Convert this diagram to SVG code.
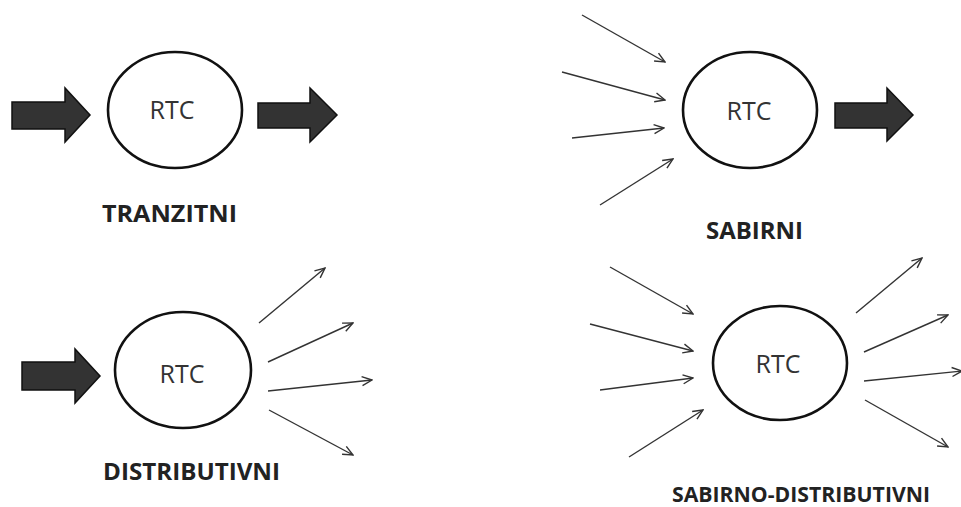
<svg xmlns="http://www.w3.org/2000/svg" width="961" height="507" viewBox="0 0 961 507">
<style>
.node ellipse{fill:#fff;stroke:#111;stroke-width:2.6}
.rtc{font-family:"Open Sans","DejaVu Sans",sans-serif;font-size:25px;fill:#333;text-anchor:middle}
.lbl{font-family:"Open Sans","DejaVu Sans",sans-serif;font-weight:700;fill:#222}
.block{fill:#333;stroke:#111;stroke-width:1.5;stroke-linejoin:miter}
.thin{stroke:#333;stroke-width:1.4;fill:none;marker-end:url(#head)}
</style>
<defs>
<marker id="head" viewBox="0 0 12 12" refX="11" refY="6" markerWidth="12" markerHeight="12" markerUnits="userSpaceOnUse" orient="auto">
<path d="M1,1.5 L11,6 L1,10.5" fill="none" stroke="#333" stroke-width="1.4"/>
</marker>
</defs>
<rect width="961" height="507" fill="#fff"/>
<g id="connectors">
<path class="block" d="M12,102 H65 V88 L90,115 L65,142 V129 H12 Z"/>
<path class="block" d="M258,103 H310 V88 L337,115 L310,142 V128 H258 Z"/>
<path class="block" d="M835,103 H887 V88 L913,115 L887,141 V128 H835 Z"/>
<path class="block" d="M22,362 H75 V349 L100,376 L75,403 V390 H22 Z"/>
<line class="thin" x1="582" y1="15" x2="665" y2="62"/>
<line class="thin" x1="562" y1="72" x2="665" y2="100"/>
<line class="thin" x1="572" y1="138" x2="664" y2="128"/>
<line class="thin" x1="600" y1="205" x2="673" y2="159"/>
<line class="thin" x1="259" y1="323" x2="325" y2="268"/>
<line class="thin" x1="268" y1="362" x2="353" y2="323"/>
<line class="thin" x1="268" y1="391" x2="372" y2="380"/>
<line class="thin" x1="269" y1="410" x2="353" y2="455"/>
<line class="thin" x1="610" y1="267" x2="693" y2="314"/>
<line class="thin" x1="590" y1="324" x2="693" y2="351"/>
<line class="thin" x1="600" y1="390" x2="693" y2="378"/>
<line class="thin" x1="629" y1="457" x2="703" y2="410"/>
<line class="thin" x1="856" y1="313" x2="922" y2="258"/>
<line class="thin" x1="864" y1="352" x2="948" y2="315"/>
<line class="thin" x1="864" y1="381" x2="962" y2="371"/>
<line class="thin" x1="865" y1="400" x2="948" y2="447"/>
</g>
<g id="tranzitni" class="node">
<ellipse cx="175" cy="110" rx="67" ry="58"/>
<text class="rtc" x="172" y="119">RTC</text>
<text class="lbl" x="102" y="222" font-size="24" textLength="135" lengthAdjust="spacingAndGlyphs">TRANZITNI</text>
</g>
<g id="sabirni" class="node">
<ellipse cx="750" cy="110" rx="67" ry="58"/>
<text class="rtc" x="749" y="120">RTC</text>
<text class="lbl" x="706" y="239" font-size="23" textLength="97" lengthAdjust="spacingAndGlyphs">SABIRNI</text>
</g>
<g id="distributivni" class="node">
<ellipse cx="183" cy="370" rx="68" ry="58"/>
<text class="rtc" x="182" y="383">RTC</text>
<text class="lbl" x="103" y="480" font-size="24" textLength="177" lengthAdjust="spacingAndGlyphs">DISTRIBUTIVNI</text>
</g>
<g id="sabirno-distributivni" class="node">
<ellipse cx="780" cy="363" rx="67" ry="57"/>
<text class="rtc" x="778" y="373">RTC</text>
<text class="lbl" x="672" y="502" font-size="21" textLength="258" lengthAdjust="spacingAndGlyphs">SABIRNO-DISTRIBUTIVNI</text>
</g>
</svg>
